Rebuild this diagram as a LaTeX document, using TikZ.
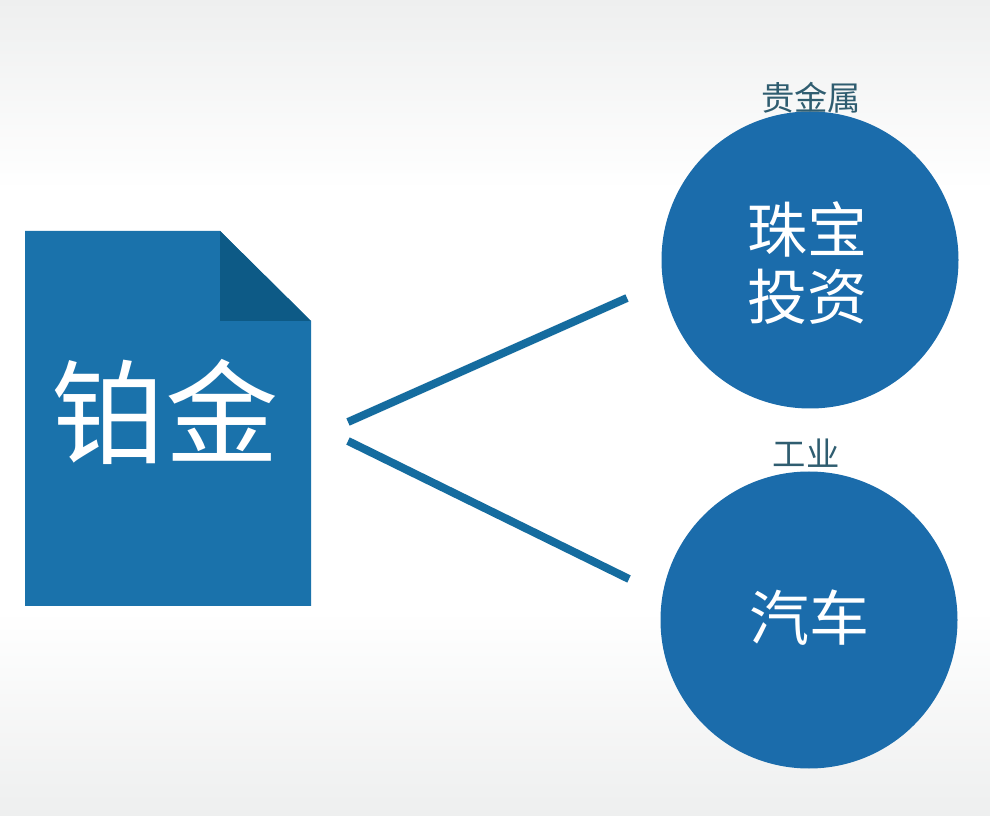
\documentclass[tikz,border=0pt]{standalone}
\usepackage{fontspec}
\newfontfamily\cjk{Noto Sans CJK SC}
\definecolor{docblue}{HTML}{1A72AB}
\definecolor{folddark}{HTML}{0D5A86}
\definecolor{linkblue}{HTML}{156C9F}
\definecolor{circblue}{HTML}{1B6CAB}
\definecolor{captxt}{HTML}{2F5D70}
\definecolor{edgegray}{HTML}{EEEFEF}
\newlength{\pxu}\setlength{\pxu}{0.75pt}
\tikzset{
  docbody/.style={fill=docblue,draw=none},
  docfold/.style={fill=folddark,draw=none},
  topic/.style={circle,fill=circblue,draw=none,minimum size=297\pxu,inner sep=0pt},
  topictext/.style={text=white,inner sep=0pt,align=center,font=\cjk\fontsize{45}{50}\selectfont},
  caption/.style={text=captxt,inner sep=0pt,font=\cjk\fontsize{25}{28}\selectfont},
  title/.style={text=white,inner sep=0pt,font=\cjk\fontsize{85}{100}\selectfont},
  link/.style={draw=linkblue,line width=8\pxu},
}
\begin{document}
\begin{tikzpicture}[x=0.75pt,y=-0.75pt]
\useasboundingbox (0,0) rectangle (990,816);
\fill[white] (0,0) rectangle (990,816);
\fill[top color=edgegray,bottom color=white] (0,0) rectangle (990,190);
\fill[top color=white,bottom color=edgegray] (0,610) rectangle (990,816);
\fill[docbody] (25,231) -- (220,231) -- (311,321) -- (311,606) -- (25,606) -- cycle;
\fill[docfold] (220,231) -- (311,321) -- (220,321) -- cycle;
\node[title] (doc) at (165,412) {铂金};
\node[topic] (top) at (810,260) {};
\node[topic] (bot) at (809,620) {};
\node[topictext] (toptext) at (807,263) {珠宝\\投资};
\node[topictext] (bottext) at (809,618) {汽车};
\node[caption,anchor=south] (captop) at (811,114) {贵金属};
\node[caption,anchor=south] (capbot) at (806,468) {工业};
\coordinate (a1) at (348,422);
\coordinate (a2) at (627,298);
\coordinate (b1) at (348,441);
\coordinate (b2) at (629,579);
\draw[link] (a1) -- (a2);
\draw[link] (b1) -- (b2);
\end{tikzpicture}
\end{document}
